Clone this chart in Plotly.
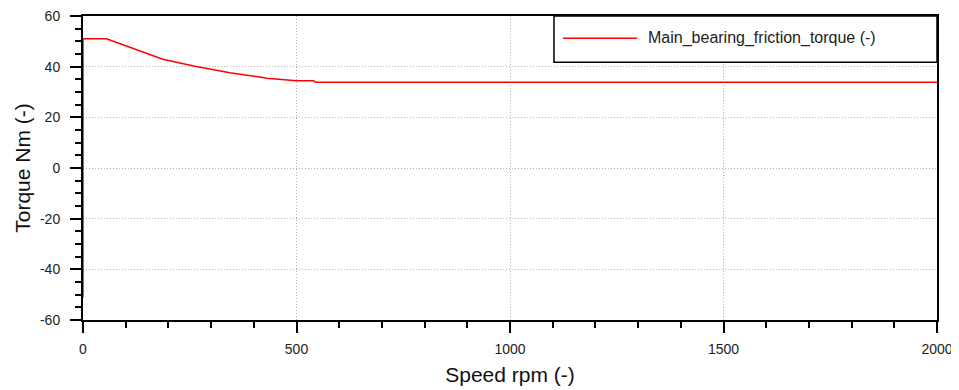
import plotly.graph_objects as go

# Data
speed_rpm = [0, 0, 55, 100, 150, 187, 262, 344, 414, 430, 500, 540, 545, 1000, 1500, 2000]
torque_nm = [-51, 51, 51, 48.3, 45.3, 42.9, 40.2, 37.6, 35.9, 35.4, 34.4, 34.4, 33.8, 33.8, 33.8, 33.8]
series_name = "Main_bearing_friction_torque (-)"
x_ticks = [0, 500, 1000, 1500, 2000]
y_ticks = [-60, -40, -20, 0, 20, 40, 60]

fig = go.Figure()
fig.add_trace(go.Scatter(
    x=speed_rpm, y=torque_nm, mode="lines", name=series_name,
    line=dict(color="#ff0000", width=1.5), cliponaxis=False, showlegend=False,
))

font_family = "Liberation Sans, Arial, sans-serif"
fig.update_layout(
    width=951, height=382,
    margin=dict(l=75, r=22, t=8, b=70, autoexpand=False),
    plot_bgcolor="white", paper_bgcolor="white",
    font=dict(family=font_family, color="#000000"),
    showlegend=False,
)

# Legend box drawn in the top right corner (as in the reference)
fig.add_shape(type="rect", xref="paper", yref="paper", x0=0.5515, x1=1.0, y0=0.848, y1=1.0,
              line=dict(color="#000000", width=1.5), fillcolor="white", layer="above")
fig.add_shape(type="line", xref="paper", yref="paper", x0=0.562, x1=0.6487, y0=0.927, y1=0.927,
              line=dict(color="#ff0000", width=1.5), layer="above")
fig.add_annotation(xref="paper", yref="paper", x=0.659, y=0.927, xanchor="left", yanchor="middle",
                   text=series_name, showarrow=False,
                   font=dict(size=16, family=font_family, color="#222222"))

grid_dash = "1px,2px"
fig.update_xaxes(
    range=[0, 2000], tickvals=x_ticks, ticktext=[str(v) for v in x_ticks],
    showline=True, linecolor="#000000", linewidth=2, mirror=True,
    ticks="outside", ticklen=11, tickwidth=1.5, tickcolor="#000000",
    minor=dict(dtick=100, ticks="outside", ticklen=6, tickwidth=1.5, tickcolor="#000000", showgrid=False),
    showgrid=True, gridcolor="#b0b0b0", griddash=grid_dash, gridwidth=1,
    zeroline=False, automargin=False, layer="below traces", ticklabeloverflow="allow",
    ticklabelstandoff=4,
    tickfont=dict(size=14, color="#222222"),
    title=dict(text="Speed rpm (-)", font=dict(size=21, color="#111111"), standoff=12),
)
fig.update_yaxes(
    range=[-60, 60], tickvals=y_ticks, ticktext=[str(v) for v in y_ticks],
    showline=True, linecolor="#000000", linewidth=2, mirror=True,
    ticks="outside", ticklen=11, tickwidth=1.5, tickcolor="#000000",
    minor=dict(dtick=5, ticks="outside", ticklen=6, tickwidth=1.5, tickcolor="#000000", showgrid=False),
    showgrid=True, gridcolor="#b0b0b0", griddash=grid_dash, gridwidth=1,
    zeroline=False, automargin=False, layer="below traces", ticklabeloverflow="allow",
    ticklabelstandoff=7,
    tickfont=dict(size=14, color="#222222"),
    title=dict(text="Torque Nm (-)", font=dict(size=21, color="#111111"), standoff=4),
)

fig.write_html("out.html")
